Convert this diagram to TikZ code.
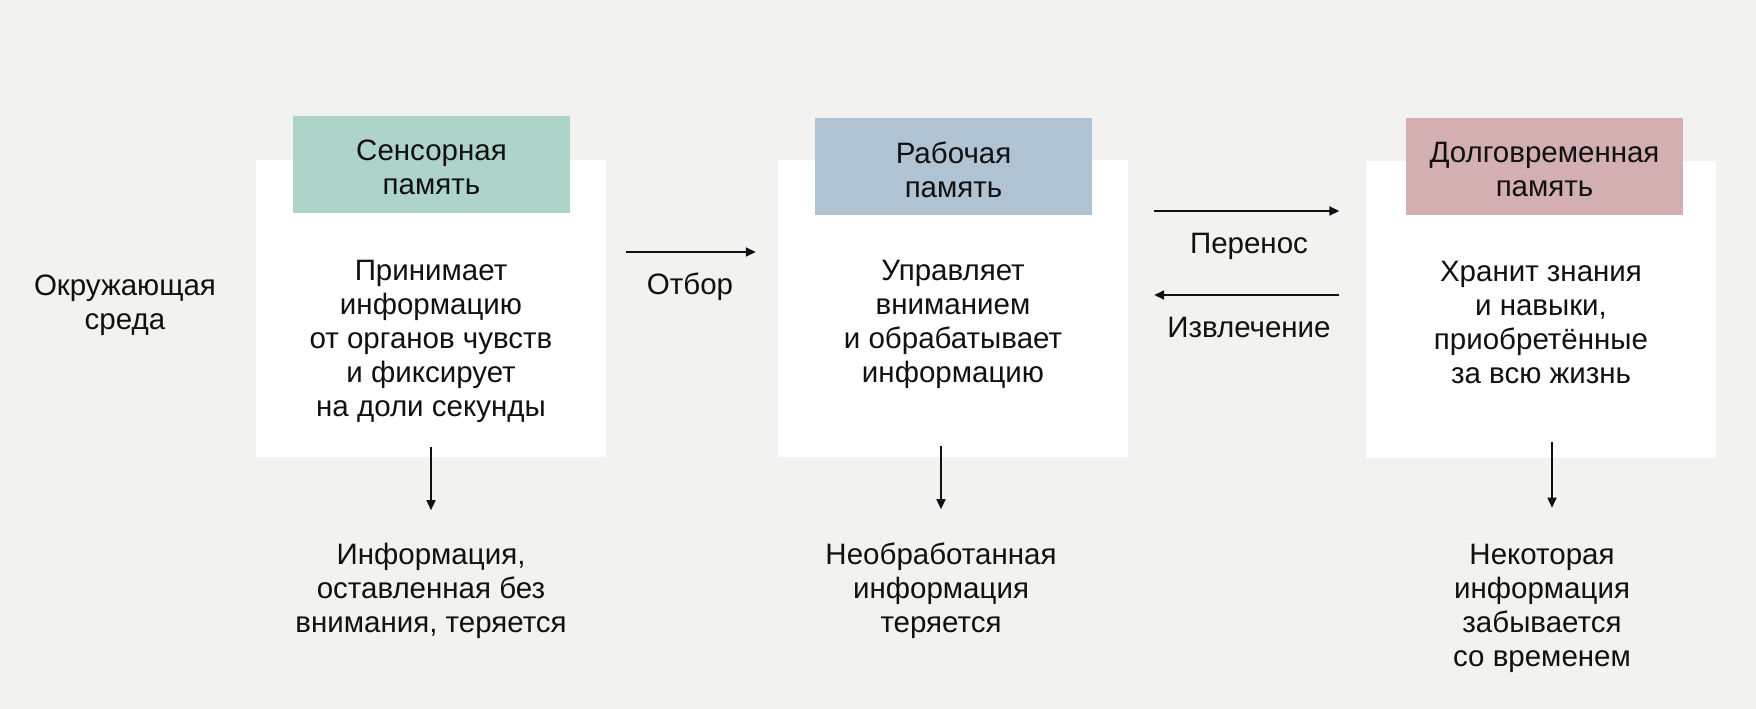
\documentclass[tikz,border=0pt]{standalone}
\usepackage{fontspec}
\setmainfont{Liberation Sans}
\usetikzlibrary{arrows.meta}
\definecolor{bg}{HTML}{F2F2F0}
\definecolor{hgreen}{HTML}{AED3C8}
\definecolor{hblue}{HTML}{AFC3D3}
\definecolor{hpink}{HTML}{D4AFB2}
\definecolor{ink}{HTML}{111111}
\tikzset{
  card/.style={fill=white, draw=none, inner sep=0pt, minimum width=350pt, minimum height=297pt},
  head/.style={draw=none, inner sep=0pt, minimum width=277pt, minimum height=97pt},
  txt/.style={align=center, inner sep=0pt, text=ink, font=\fontsize{29.5}{34}\selectfont},
  arr/.style={draw=ink, line width=1.6pt, -{Triangle[length=10pt,width=9pt]}},
}
\begin{document}
\begin{tikzpicture}[x=1pt,y=-1pt]
\fill[bg] (0,0) rectangle (1756,709);
\useasboundingbox (0,0) rectangle (1756,709);
% cards
\node[card] (c1) at (431,308.5) {};
\node[card] (c2) at (953,308.5) {};
\node[card] (c3) at (1541,309) {};
% headers
\node[head, fill=hgreen] (h1) at (431.5,164) {};
\node[head, fill=hblue] (h2) at (953.5,166) {};
\node[head, fill=hpink] (h3) at (1544.5,166) {};
\node[txt] (h1t) at (431.5,167.5) {Сенсорная\\память};
\node[txt] (h2t) at (953.5,169.5) {Рабочая\\память};
\node[txt] (h3t) at (1544.5,169.5) {Долговременная\\память};
% body texts
\node[txt] (t1) at (431,341) {Принимает\\информацию\\от органов чувств\\и фиксирует\\на доли секунды};
\node[txt] (t2) at (953,324) {Управляет\\вниманием\\и обрабатывает\\информацию};
\node[txt] (t3) at (1541,322) {Хранит знания\\и навыки,\\приобретённые\\за всю жизнь};
% outcomes
\node[txt] (b1) at (431,590.5) {Информация,\\оставленная без\\внимания, теряется};
\node[txt] (b2) at (941,590.5) {Необработанная\\информация\\теряется};
\node[txt] (b3) at (1542,608.5) {Некоторая\\информация\\забывается\\со временем};
% environment
\node[txt] (env) at (125,305.5) {Окружающая\\среда};
% labels
\node[txt] (lsel) at (690,287) {Отбор};
\node[txt] (ltr) at (1249,246.5) {Перенос};
\node[txt] (lret) at (1249,327.5) {Извлечение};
% arrow rows
\coordinate (ySel) at (0,252);
\coordinate (yTr) at (0,211);
\coordinate (yRet) at (0,295);
\draw[arr, shorten <=20pt, shorten >=22pt] (c1.east |- ySel) -- (c2.west |- ySel);
\draw[arr, shorten <=26pt, shorten >=26.5pt] (c2.east |- yTr) -- (c3.west |- yTr);
\draw[arr, shorten <=26.5pt, shorten >=26pt] (c3.west |- yRet) -- (c2.east |- yRet);
% down arrows
\draw[arr] ([yshift=10pt]c1.south -| b1.north) -- ([yshift=-53pt]c1.south -| b1.north);
\draw[arr] ([yshift=11pt]c2.south -| b2.north) -- ([yshift=-52pt]c2.south -| b2.north);
\draw[arr] ([xshift=10pt,yshift=16pt]c3.south -| b3.north) -- ([xshift=10pt,yshift=-50pt]c3.south -| b3.north);
\end{tikzpicture}
\end{document}
